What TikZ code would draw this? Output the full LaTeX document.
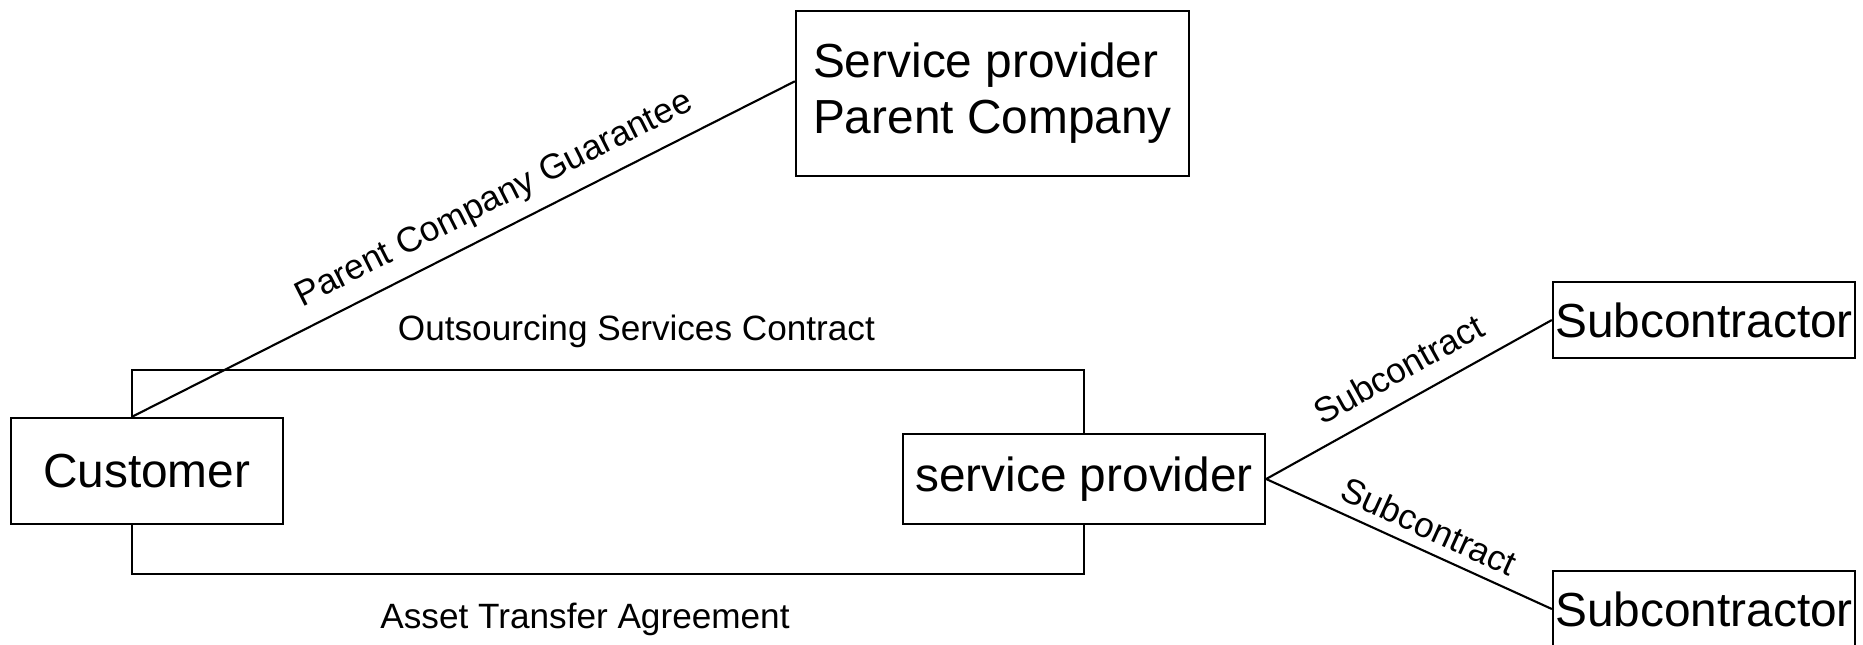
\documentclass[tikz,border=0pt]{standalone}
\usepackage{fontspec}
\setmainfont{Liberation Sans}
\usetikzlibrary{calc}
\tikzset{party/.style={draw, line width=.6pt, fill=white, inner sep=0pt,
    font=\fontsize{13.6}{15.8}\selectfont}}
\tikzset{deal/.style={font=\fontsize{10}{12}\selectfont, inner sep=0pt}}

\begin{document}
\begin{tikzpicture}[x=.01cm,y=-.01cm,line width=.6pt]
  \useasboundingbox (0,0) rectangle (1863,644);
  \node[party, minimum width=2.72cm, minimum height=1.06cm] (cust) at (146.7,471) {Customer};
  \node[party, minimum width=3.93cm, minimum height=1.65cm, align=left] (parent)
    at (992.5,93.3) {Service provider\\Parent Company};
  \node[party, minimum width=3.62cm, minimum height=.9cm] (sp) at (1084,479) {service provider};
  \foreach \y/\lab in {320/subA, 609/subB} {
    \node[party, minimum width=3.02cm, minimum height=.76cm] (\lab) at (1704,\y) {Subcontractor};
  }
  % where the customer's lines leave its box
  \coordinate (ctop) at ($(cust.north)+(-15,0)$);
  \coordinate (cbot) at ($(cust.south)+(-15,0)$);
  \coordinate (pin) at ($(parent.west)+(0,-12)$);

  \draw (ctop) -- ++(0,-47) -| (sp.north)
    node[deal, pos=.265, above=6pt] {Outsourcing Services Contract};
  \draw (cbot) -- ++(0,49) -| (sp.south)
    node[deal, pos=.238, below=8pt] {Asset Transfer Agreement};
  \draw (ctop) -- (pin) node[deal, pos=.567, sloped, above=3.5pt] {Parent Company Guarantee};
  \foreach \t/\p/\gap in {subA/.517/5pt, subB/.535/3pt} {
    \draw (sp.east) -- (\t.west) node[deal, pos=\p, sloped, above=\gap] {Subcontract};
  }
\end{tikzpicture}
\end{document}
